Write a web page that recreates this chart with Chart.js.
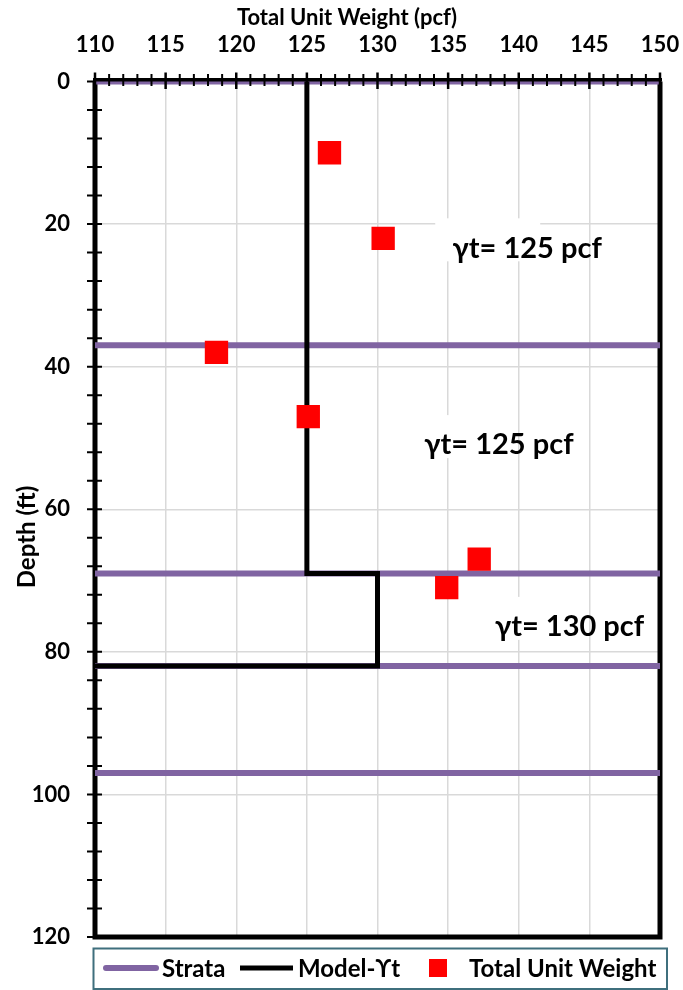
<!DOCTYPE html>
<html>
<head>
<meta charset="utf-8">
<script src="https://cdn.jsdelivr.net/npm/chart.js@4.4.1/dist/chart.umd.min.js"></script>
<style>
  html, body { margin: 0; padding: 0; background: #fff; overflow: hidden; }
  #wrap { width: 683px; height: 990px; position: relative; }
</style>
</head>
<body>
<div id="wrap"><canvas id="chart"></canvas></div>
<script>
"use strict";

// measured unit weights
const weightX = [126.6, 130.4, 118.6, 125.1, 137.2, 134.9];
const weightDepth = [10, 22, 38, 47, 67, 71];

// strata boundaries (ft)
const strataDepths = [0, 37, 69, 82, 97];

// model profile
const modelX = [125, 125, 130, 130, 110];
const modelDepth = [0, 69, 69, 82, 82];

// layer labels
const labelText = ["γt= 125 pcf", "γt= 125 pcf", "γt= 130 pcf"];
const labelX = [140.6, 138.6, 143.6];
const labelDepth = [23.4, 51, 76.5];

const xMin = 110, xMax = 150, xStep = 5, xMinor = 1;
const yMin = 0, yMax = 120, yStep = 20, yMinor = 4;

const FONT = "Lato, 'Open Sans', sans-serif";
const PURPLE = "#8064a2";

Chart.defaults.color = "#000";
Chart.defaults.font.family = FONT;

const datasets = [];

datasets.push({
  label: "Total Unit Weight",
  data: weightX.map((x, i) => ({ x: x, y: weightDepth[i] })),
  pointStyle: "rect",
  pointRadius: 16.5,
  pointBackgroundColor: "#ff0000",
  pointBorderWidth: 0,
  showLine: false,
  order: 0,
});

datasets.push({
  label: "Model-ϒt",
  data: modelX.map((x, i) => ({ x: x, y: modelDepth[i] })),
  showLine: true,
  borderColor: "#000",
  borderWidth: 5,
  pointRadius: 0,
  clip: false,
  order: 1,
});

strataDepths.forEach((d) => {
  datasets.push({
    label: "Strata",
    data: [{ x: xMin, y: d }, { x: xMax, y: d }],
    showLine: true,
    borderColor: PURPLE,
    borderWidth: 6,
    pointRadius: 0,
    clip: false,
    order: 2,
  });
});

const extras = {
  id: "extras",
  beforeDatasetsDraw(chart) {
    const { ctx, chartArea: a, scales } = chart;
    ctx.save();
    // frame: left, bottom, right
    ctx.strokeStyle = "#000";
    ctx.lineWidth = 5;
    ctx.beginPath();
    ctx.moveTo(a.left, a.top);
    ctx.lineTo(a.left, a.bottom);
    ctx.lineTo(a.right, a.bottom);
    ctx.lineTo(a.right, a.top);
    ctx.stroke();

    // y tick marks crossing the left axis
    ctx.lineWidth = 2;
    ctx.beginPath();
    for (let d = yMin; d <= yMax; d += yMinor) {
      const py = scales.y.getPixelForValue(d);
      ctx.moveTo(a.left - 8, py);
      ctx.lineTo(a.left + 7, py);
    }
    ctx.stroke();

    // layer labels with white boxes
    ctx.font = "bold 29px " + FONT;
    ctx.textAlign = "center";
    ctx.textBaseline = "middle";
    labelText.forEach((t, i) => {
      const px = scales.x.getPixelForValue(labelX[i]);
      const py = scales.y.getPixelForValue(labelDepth[i]);
      ctx.fillStyle = "#fff";
      ctx.fillRect(px - 92, py - 30, 105, 43);
      ctx.fillStyle = "#000";
      ctx.fillText(t, px, py);
    });
    ctx.restore();
  },
  afterDatasetsDraw(chart) {
    const { ctx, chartArea: a, scales } = chart;
    ctx.save();
    ctx.strokeStyle = "#000";
    ctx.lineWidth = 3.5;
    ctx.beginPath();
    ctx.moveTo(a.left - 2, a.top - 1.75);
    ctx.lineTo(a.right + 2, a.top - 1.75);
    ctx.stroke();

    for (let v = xMin; v <= xMax; v += xMinor) {
      const px = scales.x.getPixelForValue(v);
      const major = v % xStep === 0;
      ctx.lineWidth = major ? 2.5 : 2;
      ctx.beginPath();
      ctx.moveTo(px, a.top - (major ? 9 : 7.5));
      ctx.lineTo(px, a.top + (major ? 7.5 : 4.5));
      ctx.stroke();
    }
    ctx.restore();
  },
  afterDraw(chart) {
    const { ctx } = chart;
    ctx.save();
    ctx.fillStyle = "#000";

    // axis titles
    ctx.font = "bold 22px " + FONT;
    ctx.textAlign = "center";
    ctx.textBaseline = "alphabetic";
    ctx.fillText("Total Unit Weight (pcf)", 347, 25);

    ctx.save();
    ctx.translate(27, 537);
    ctx.rotate(-Math.PI / 2);
    ctx.font = "bold 24px " + FONT;
    ctx.textBaseline = "middle";
    ctx.fillText("Depth (ft)", 0, 0);
    ctx.restore();

    // legend
    ctx.strokeStyle = "#3f6f7d";
    ctx.lineWidth = 2;
    ctx.strokeRect(93.5, 948.5, 573.5, 40.5);

    const ly = 968;
    ctx.lineCap = "round";
    ctx.strokeStyle = PURPLE;
    ctx.lineWidth = 6;
    ctx.beginPath();
    ctx.moveTo(106, ly);
    ctx.lineTo(156, ly);
    ctx.stroke();

    ctx.lineCap = "butt";
    ctx.strokeStyle = "#000";
    ctx.lineWidth = 5;
    ctx.beginPath();
    ctx.moveTo(240, ly);
    ctx.lineTo(293, ly);
    ctx.stroke();

    ctx.fillStyle = "#ff0000";
    ctx.fillRect(429, 959, 18, 18);

    ctx.fillStyle = "#000";
    ctx.font = "bold 24px " + FONT;
    ctx.textAlign = "left";
    ctx.textBaseline = "middle";
    ctx.fillText("Strata", 162, ly + 1);
    ctx.fillText("Model-ϒt", 298, ly + 1);
    ctx.fillText("Total Unit Weight", 469, ly + 1);
    ctx.restore();
  },
};

new Chart(document.getElementById("chart"), {
  type: "scatter",
  data: { datasets: datasets },
  options: {
    responsive: true,
    maintainAspectRatio: false,
    animation: false,
    layout: { padding: { left: 0, top: 0, right: 23, bottom: 53 } },
    plugins: {
      legend: { display: false },
      tooltip: { enabled: false },
    },
    scales: {
      x: {
        type: "linear",
        position: "top",
        min: xMin,
        max: xMax,
        afterFit(s) { s.height = 81.5; s.paddingLeft = 0; s.paddingRight = 0; },
        grid: { color: "#d9d9d9", lineWidth: 1.5, drawTicks: false },
        border: { display: false },
        ticks: {
          stepSize: xStep,
          padding: 23,
          maxRotation: 0,
          autoSkip: false,
          font: { size: 22, weight: "bold" },
        },
      },
      y: {
        type: "linear",
        reverse: true,
        min: yMin,
        max: yMax,
        afterFit(s) { s.width = 95; s.paddingTop = 0; s.paddingBottom = 0; },
        grid: { color: "#d9d9d9", lineWidth: 1.5, drawTicks: false },
        border: { display: false },
        ticks: {
          stepSize: yStep,
          padding: 25,
          autoSkip: false,
          font: { size: 22, weight: "bold" },
        },
      },
    },
  },
  plugins: [extras],
});
</script>
</body>
</html>
